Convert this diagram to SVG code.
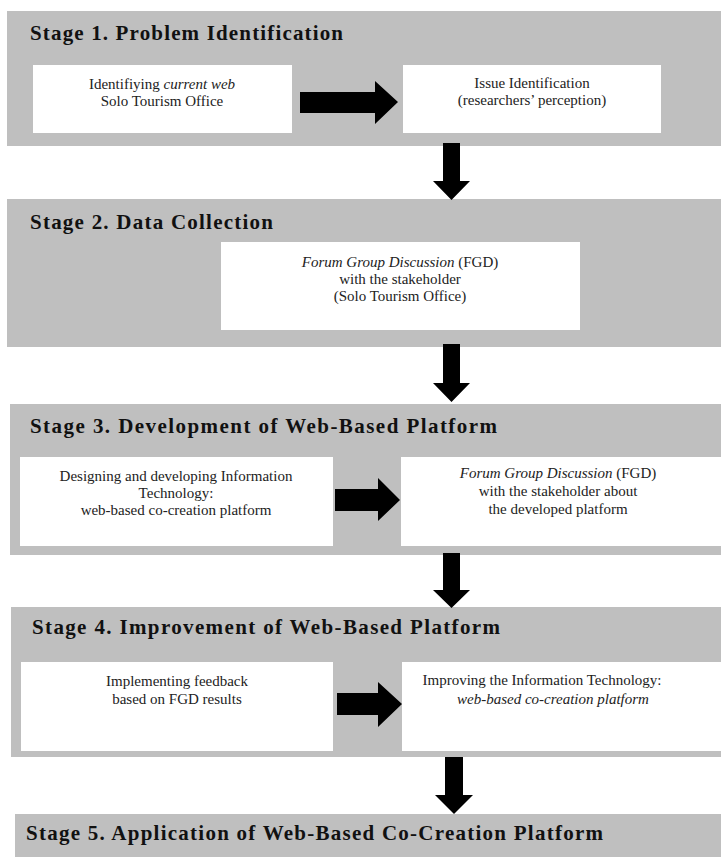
<svg xmlns="http://www.w3.org/2000/svg" width="721" height="857" viewBox="0 0 721 857">
<style>
.band{fill:#bfbfbf}
.box{fill:#ffffff}
text{font-family:'Liberation Serif',serif}
.title{font-weight:bold;font-size:21px;fill:#111}
.txt{font-size:15px;fill:#222;text-anchor:middle}
.it{font-style:italic}
.arr{fill:#000}
</style>
<rect width="721" height="857" fill="#ffffff"/>
<g id="stage1">
<rect class="band" x="7" y="11" width="714" height="135"/>
<text class="title" x="30" y="40" textLength="313" lengthAdjust="spacing">Stage 1. Problem Identification</text>
</g>
<g id="s1-current-web">
<rect class="box" x="33" y="65" width="259" height="68"/>
<text class="txt" x="162" y="89">Identifiying <tspan class="it">current web</tspan></text>
<text class="txt" x="162" y="106">Solo Tourism Office</text>
</g>
<g id="s1-issue">
<rect class="box" x="403" y="65" width="258" height="68"/>
<text class="txt" x="532" y="88">Issue Identification</text>
<text class="txt" x="532" y="105">(researchers’ perception)</text>
</g>
<g id="stage2">
<rect class="band" x="7" y="199" width="714" height="148"/>
<text class="title" x="30" y="229" textLength="243" lengthAdjust="spacing">Stage 2. Data Collection</text>
</g>
<g id="s2-fgd">
<rect class="box" x="221" y="242" width="359" height="88"/>
<text class="txt" x="400" y="267"><tspan class="it">Forum Group Discussion</tspan> (FGD)</text>
<text class="txt" x="400" y="284">with the stakeholder</text>
<text class="txt" x="400" y="301">(Solo Tourism Office)</text>
</g>
<g id="stage3">
<rect class="band" x="10" y="404" width="711" height="151"/>
<text class="title" x="30" y="433" textLength="467" lengthAdjust="spacing">Stage 3. Development of Web-Based Platform</text>
</g>
<g id="s3-design">
<rect class="box" x="20" y="457" width="313" height="89"/>
<text class="txt" x="176" y="481">Designing and developing Information</text>
<text class="txt" x="176" y="498">Technology:</text>
<text class="txt" x="176" y="515">web-based co-creation platform</text>
</g>
<g id="s3-fgd">
<rect class="box" x="401" y="457" width="320" height="89"/>
<text class="txt" x="558" y="478"><tspan class="it">Forum Group Discussion</tspan> (FGD)</text>
<text class="txt" x="558" y="496">with the stakeholder about</text>
<text class="txt" x="558" y="514">the developed platform</text>
</g>
<g id="stage4">
<rect class="band" x="11" y="607" width="710" height="150"/>
<text class="title" x="32" y="634" textLength="468" lengthAdjust="spacing">Stage 4. Improvement of Web-Based Platform</text>
</g>
<g id="s4-implement">
<rect class="box" x="21" y="662" width="312" height="89"/>
<text class="txt" x="177" y="686">Implementing feedback</text>
<text class="txt" x="177" y="704">based on FGD results</text>
</g>
<g id="s4-improve">
<rect class="box" x="402" y="662" width="319" height="89"/>
<text class="txt" x="542" y="685">Improving the Information Technology:</text>
<text class="txt it" x="553" y="704">web-based co-creation platform</text>
</g>
<g id="stage5">
<rect class="band" x="15" y="814" width="706" height="43"/>
<text class="title" x="26" y="840" textLength="577" lengthAdjust="spacing">Stage 5. Application of Web-Based Co-Creation Platform</text>
</g>
<g id="connectors">
<polygon class="arr" points="300,92 375,92 375,81 398,102 375,124 375,113 300,113"/>
<polygon class="arr" points="335,489 378,489 378,478 400,500 378,521 378,511 335,511"/>
<polygon class="arr" points="337,693 378,693 378,682 402,704 378,727 378,715 337,715"/>
<polygon class="arr" points="443,143 460,143 460,181 470,181 451.5,200 433,181 443,181"/>
<polygon class="arr" points="443,344 460,344 460,383 470,383 451.5,402 433,383 443,383"/>
<polygon class="arr" points="443,553 460,553 460,590 470,590 451.5,608 433,590 443,590"/>
<polygon class="arr" points="445,757 463,757 463,795 473,795 454,814 435,795 445,795"/>
</g>
</svg>
